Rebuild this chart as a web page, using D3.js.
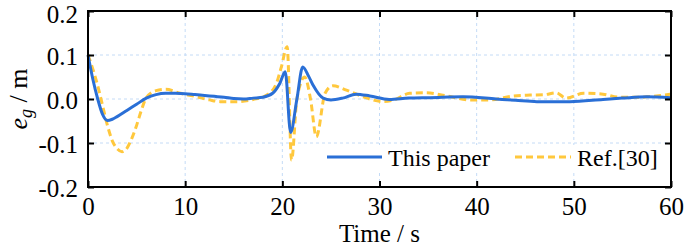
<!DOCTYPE html>
<html>
<head>
<meta charset="utf-8">
<script src="https://cdn.jsdelivr.net/npm/d3@7"></script>
<style>
  html, body { margin: 0; padding: 0; background: #fff; }
  svg { display: block; }
</style>
</head>
<body>
<svg id="chart" width="685" height="247"></svg>
<script>
// ---- data ----
const xTicks = [0, 10, 20, 30, 40, 50, 60];
const xTickLabels = ["0", "10", "20", "30", "40", "50", "60"];
const yTicks = [0.2, 0.1, 0.0, -0.1, -0.2];
const yTickLabels = ["0.2", "0.1", "0.0", "-0.1", "-0.2"];
const seriesNames = ["This paper", "Ref.[30]"];

const paperT = [0,0.5,1,1.5,2,2.5,3,4,5,6,7,8,9,10,11,12,13,14,15,16,17,18,19,19.75,20.3,20.85,21.5,22.1,22.7,23.2,24.2,25,26.2,27.6,29,31,33,35.2,38.6,42,44,46.2,49.6,53,55,57.5,60];
const paperV = [0.1,0.045,0.0,-0.035,-0.049,-0.046,-0.04,-0.026,-0.012,0.002,0.01,0.013,0.013,0.012,0.01,0.008,0.006,0.004,0.001,0.0,0.002,0.004,0.013,0.036,0.062,-0.076,0.0,0.073,0.052,0.03,0.002,-0.002,0.002,0.011,0.007,-0.001,0.002,0.003,0.005,0.0,-0.003,-0.006,-0.006,-0.001,0.002,0.005,0.003];

const refT = [0,0.5,1,1.5,2,2.5,3,3.5,4,4.5,5,5.5,6,7,8,9.5,11.2,12.5,13.6,15.3,17,18.4,19.4,19.9,20.5,20.95,21.5,22.3,22.9,23.5,24.4,25.2,26.6,28.3,30.4,31.5,33.1,34.8,36.9,39.3,41.4,43.8,45.5,47,48.2,49.2,51,53,54.7,56.8,58.5,60];
const refV = [0.1,0.068,0.03,-0.015,-0.06,-0.095,-0.113,-0.12,-0.112,-0.09,-0.06,-0.025,0.003,0.019,0.022,0.013,0.005,-0.002,-0.006,-0.006,-0.001,0.009,0.036,0.073,0.119,-0.139,0.0,0.05,0.0,-0.086,0.013,0.03,0.02,0.005,-0.006,-0.002,0.013,0.014,0.007,-0.002,-0.002,0.007,0.009,0.01,0.014,0.002,0.013,0.011,0.004,0.004,0.007,0.011];

// ---- layout ----
const FONT = "'Liberation Serif', Tinos, 'Times New Roman', serif";
const L = 88, R = 671, T = 11, B = 187;
const svg = d3.select("#chart");
const x = d3.scaleLinear().domain([0, 60]).range([L, R]);
const y = d3.scaleLinear().domain([-0.2, 0.2]).range([B, T]);

const gridColor = "#c4dbf6";
const blue = "#2a6fd6";
const orange = "#ffc83d";

// grid
const grid = svg.append("g");
grid.selectAll("line.gx").data(xTicks.slice(1, -1)).join("line")
  .attr("x1", d => x(d)).attr("x2", d => x(d)).attr("y1", T).attr("y2", B)
  .attr("stroke", gridColor).attr("stroke-width", 1).attr("stroke-dasharray", "3,3");
grid.selectAll("line.gy").data(yTicks.slice(1, -1)).join("line")
  .attr("y1", d => y(d)).attr("y2", d => y(d)).attr("x1", L).attr("x2", R)
  .attr("stroke", gridColor).attr("stroke-width", 1).attr("stroke-dasharray", "3,3");

// lines
const line = d3.line().curve(d3.curveMonotoneX);
const refPts = refT.map((t, i) => [x(t), y(refV[i])]);
const paperPts = paperT.map((t, i) => [x(t), y(paperV[i])]);

svg.append("path").attr("d", line(refPts)).attr("fill", "none")
  .attr("stroke", orange).attr("stroke-width", 3).attr("stroke-dasharray", "7,4");
svg.append("path").attr("d", line(paperPts)).attr("fill", "none")
  .attr("stroke", blue).attr("stroke-width", 3).attr("stroke-linejoin", "round");

// legend
const lg = svg.append("g");
lg.append("rect").attr("x", 322).attr("y", 145).attr("width", 343).attr("height", 28).attr("fill", "#fff");
lg.append("line").attr("x1", 327).attr("x2", 382).attr("y1", 157).attr("y2", 157)
  .attr("stroke", blue).attr("stroke-width", 3);
lg.append("text").attr("x", 388).attr("y", 165.5).style("font-family", FONT).style("font-size", "24px").text(seriesNames[0]);
lg.append("line").attr("x1", 515).attr("x2", 571).attr("y1", 157).attr("y2", 157)
  .attr("stroke", orange).attr("stroke-width", 3).attr("stroke-dasharray", "7,4");
lg.append("text").attr("x", 577).attr("y", 165.5).style("font-family", FONT).style("font-size", "24px").text(seriesNames[1]);

// axes
const fmtX = d => xTickLabels[xTicks.indexOf(d)];
const fmtY = d => yTickLabels[yTicks.indexOf(d)];

const ax = (g) => {
  g.select(".domain").remove();
  g.selectAll(".tick line").attr("stroke", "#000").attr("stroke-width", 2);
  g.selectAll(".tick text").style("font-family", FONT).style("font-size", "25px").attr("fill", "#000");
};

svg.append("g").attr("transform", `translate(0,${B})`)
  .call(d3.axisBottom(x).tickValues(xTicks).tickFormat(fmtX).tickSize(-6).tickPadding(10))
  .call(ax);
svg.append("g").attr("transform", `translate(0,${T})`)
  .call(d3.axisTop(x).tickValues(xTicks).tickFormat("").tickSize(-6))
  .call(ax);
const yAxisG = svg.append("g").attr("transform", `translate(${L},0)`)
  .call(d3.axisLeft(y).tickValues(yTicks).tickFormat(fmtY).tickSize(-6).tickPadding(10))
  .call(ax);
// keep the top label fully inside the picture
yAxisG.selectAll(".tick text").attr("dy", d => d === yTicks[0] ? "0.44em" : "0.36em");
svg.append("g").attr("transform", `translate(${R},0)`)
  .call(d3.axisRight(y).tickValues(yTicks).tickFormat("").tickSize(-6))
  .call(ax);

// frame
svg.append("rect").attr("x", L).attr("y", T).attr("width", R - L).attr("height", B - T)
  .attr("fill", "none").attr("stroke", "#000").attr("stroke-width", 2);

// axis titles
svg.append("text").attr("x", (L + R) / 2).attr("y", 241.5).attr("text-anchor", "middle")
  .style("font-family", FONT).style("font-size", "25px").text("Time / s");

const yl = svg.append("text").attr("transform", "translate(27,99) rotate(-90)")
  .attr("text-anchor", "middle").style("font-family", FONT).style("font-size", "26px");
yl.append("tspan").attr("font-style", "italic").text("e");
yl.append("tspan").attr("font-style", "italic").style("font-size", "18px").attr("dy", 5).text("g");
yl.append("tspan").attr("dy", -5).text(" / m");
</script>
</body>
</html>
